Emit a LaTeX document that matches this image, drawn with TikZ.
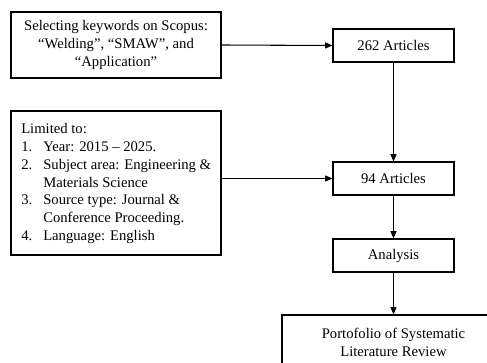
\documentclass[tikz,border=0pt]{standalone}
\usepackage{fontspec}
\setmainfont{Liberation Serif}
\usetikzlibrary{arrows.meta}
\begin{document}
\begin{tikzpicture}[x=0.75pt,y=-0.75pt,
  box/.style={draw=black, line width=0.8pt, inner sep=0pt, align=center,
    font=\fontsize{11}{13.5}\selectfont},
  txt/.style={inner sep=0pt, align=left, font=\fontsize{11}{13.4}\selectfont},
  arr/.style={line width=0.8pt, -{Triangle[length=5.5pt,width=4.5pt]}}]
\useasboundingbox (0,0) rectangle (487,363);
\node[box, minimum width=157.5pt, minimum height=49.5pt] (b1) at (116,45)
  {Selecting keywords on Scopus:\\“Welding”, “SMAW”, and\\“Application”};
\node[box, minimum width=90.75pt, minimum height=24.75pt] (n262) at (393.5,45.5) {262 Articles};
\node[box, minimum width=157.5pt, minimum height=108pt] (lim) at (116,183) {};
\node[txt, anchor=west] (limtxt) at (21,183.5)
  {Limited to:\\
   \makebox[16.5pt][l]{1.}Year: 2015 – 2025.\\
   \makebox[16.5pt][l]{2.}Subject area: Engineering \&\\
   \hspace*{16.5pt}Materials Science\\
   \makebox[16.5pt][l]{3.}Source type: Journal \&\\
   \hspace*{16.5pt}Conference Proceeding.\\
   \makebox[16.5pt][l]{4.}Language: English};
\node[box, minimum width=90.75pt, minimum height=24.75pt] (n94) at (393.5,178.5) {94 Articles};
\node[box, minimum width=90.75pt, minimum height=24.75pt] (ana) at (393.5,255.5) {Analysis};
\node[box, minimum width=167.25pt, minimum height=41.25pt] (port) at (393.5,342.5)
  {Portofolio of Systematic\\Literature Review};
\draw[arr] (b1.east) -- (n262.west);
\draw[arr] (lim.east |- n94.west) -- (n94.west);
\draw[arr] (n262.south) -- (n94.north);
\draw[arr] (n94.south) -- (ana.north);
\draw[arr] (ana.south) -- (port.north);
\end{tikzpicture}
\end{document}
